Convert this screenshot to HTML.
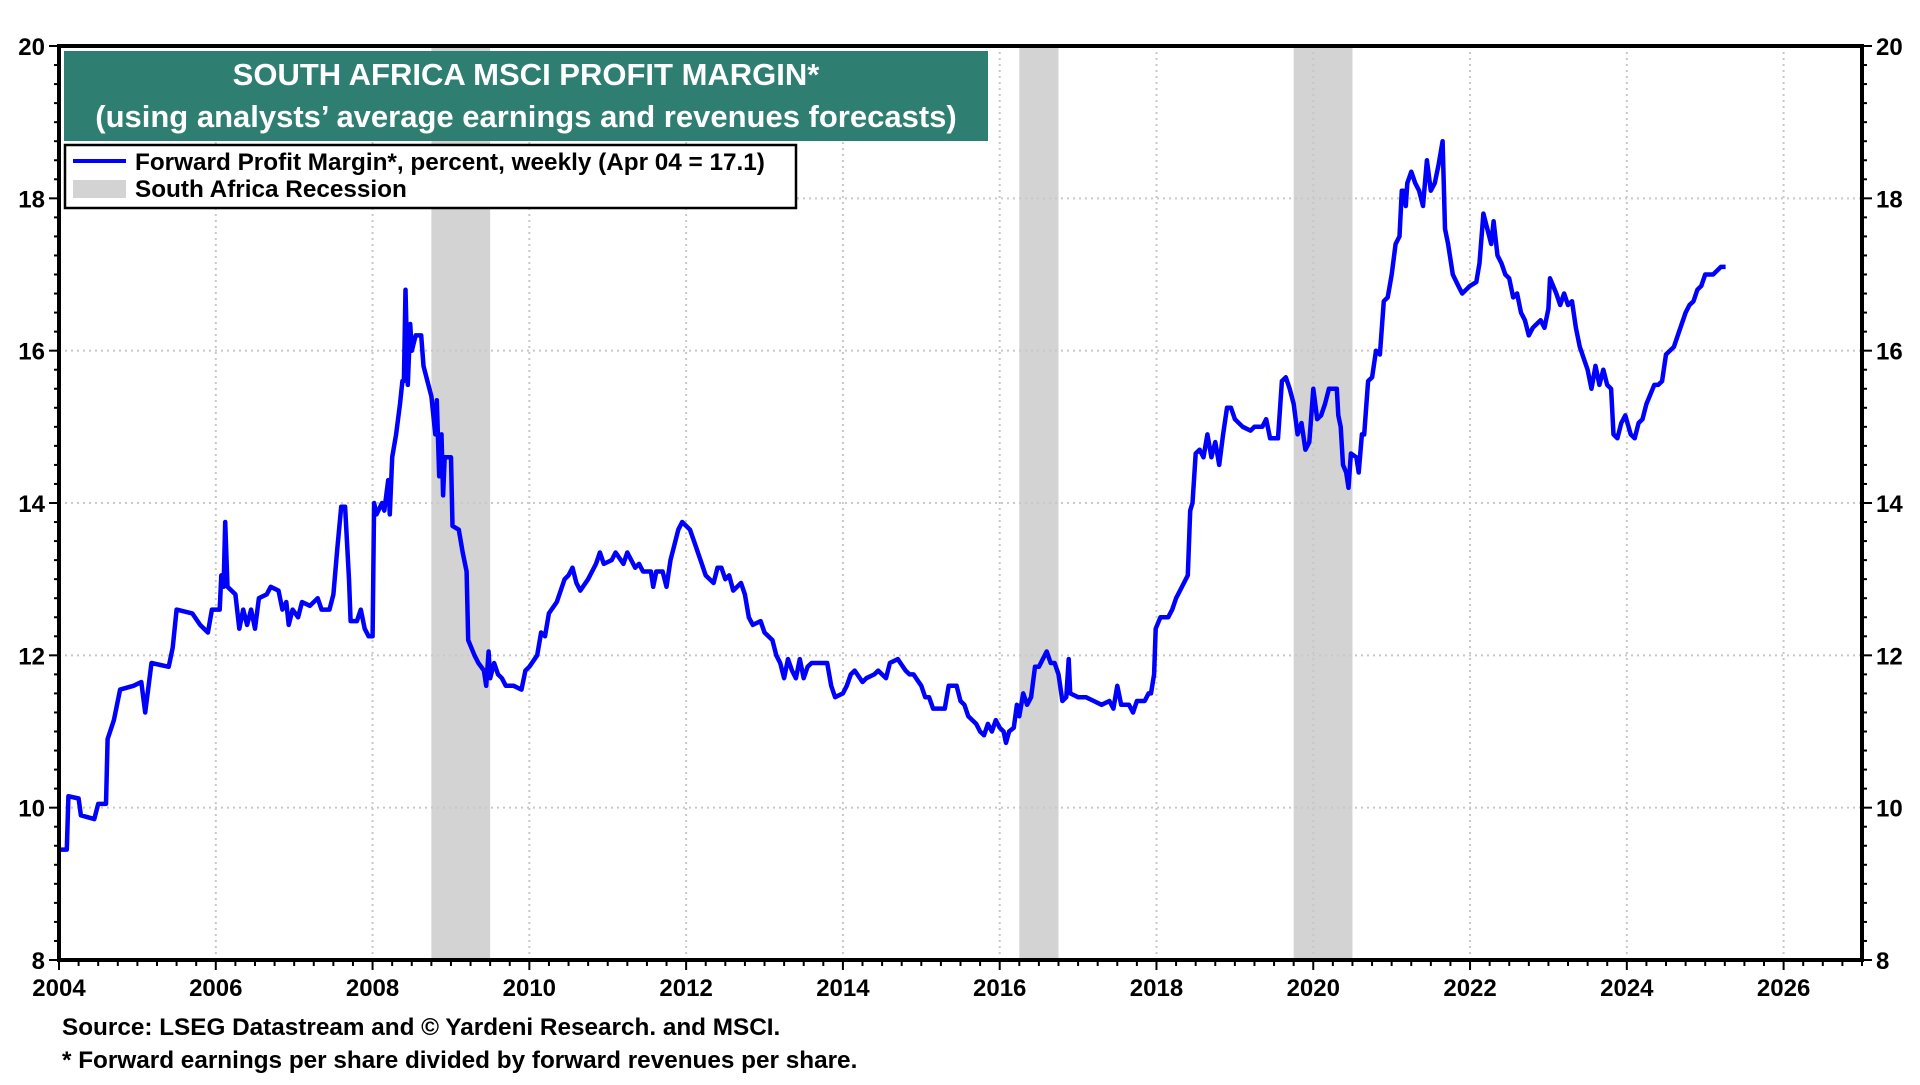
<!DOCTYPE html>
<html><head><meta charset="utf-8"><style>
html,body{margin:0;padding:0;background:#fff;}
svg text{font-family:"Liberation Sans",Arial,sans-serif;font-weight:bold;}
</style></head><body>
<svg id="chart" width="1920" height="1080" viewBox="0 0 1920 1080" xmlns="http://www.w3.org/2000/svg">
<g id="recessions"></g>
<g id="grid"></g>
<g id="series"></g>
<g id="axes"></g>
<g id="title-group">
<rect x="64" y="51" width="924" height="90" fill="#2e7e72"/>
<text x="526" y="85" text-anchor="middle" fill="#fff" font-size="31">SOUTH AFRICA MSCI PROFIT MARGIN*</text>
<text x="526" y="127" text-anchor="middle" fill="#fff" font-size="31">(using analysts’ average earnings and revenues forecasts)</text>
</g>
<g>
<rect x="65" y="145" width="731" height="63" fill="#fff" stroke="#000" stroke-width="2.5"/>
<line x1="73" y1="161" x2="126" y2="161" stroke="#0000ff" stroke-width="4"/>
<text x="135" y="170" font-size="24.3">Forward Profit Margin*, percent, weekly (Apr 04 = 17.1)</text>
<rect x="73" y="180" width="53" height="18" fill="#d3d3d3"/>
<text x="135" y="197" font-size="24.3">South Africa Recession</text>
</g>
<text x="62" y="1035" font-size="24.3">Source: LSEG Datastream and © Yardeni Research. and MSCI.</text>
<text x="62" y="1068" font-size="24.3">* Forward earnings per share divided by forward revenues per share.</text>
</svg>
<script>
const years=[2004.0,2004.1,2004.12,2004.25,2004.28,2004.45,2004.5,2004.6,2004.62,2004.7,2004.78,2004.95,2005.05,2005.1,2005.18,2005.4,2005.45,2005.5,2005.7,2005.8,2005.9,2005.95,2006.05,2006.07,2006.1,2006.12,2006.15,2006.25,2006.3,2006.35,2006.4,2006.45,2006.5,2006.55,2006.65,2006.7,2006.8,2006.85,2006.9,2006.93,2006.98,2007.05,2007.1,2007.2,2007.3,2007.35,2007.45,2007.5,2007.55,2007.6,2007.65,2007.7,2007.72,2007.8,2007.85,2007.9,2007.95,2008.0,2008.02,2008.05,2008.12,2008.15,2008.2,2008.22,2008.25,2008.3,2008.35,2008.38,2008.4,2008.42,2008.45,2008.48,2008.5,2008.55,2008.62,2008.65,2008.7,2008.75,2008.8,2008.82,2008.85,2008.88,2008.9,2008.92,2009.0,2009.02,2009.1,2009.15,2009.2,2009.22,2009.3,2009.35,2009.42,2009.45,2009.48,2009.5,2009.55,2009.6,2009.65,2009.7,2009.8,2009.9,2009.95,2010.0,2010.1,2010.15,2010.2,2010.25,2010.35,2010.45,2010.5,2010.55,2010.6,2010.65,2010.75,2010.85,2010.9,2010.95,2011.05,2011.1,2011.2,2011.25,2011.35,2011.4,2011.45,2011.55,2011.58,2011.62,2011.7,2011.75,2011.8,2011.85,2011.9,2011.95,2012.0,2012.05,2012.1,2012.15,2012.2,2012.25,2012.3,2012.35,2012.4,2012.45,2012.5,2012.55,2012.6,2012.65,2012.7,2012.75,2012.8,2012.85,2012.95,2013.0,2013.1,2013.15,2013.2,2013.25,2013.3,2013.35,2013.4,2013.45,2013.5,2013.55,2013.6,2013.7,2013.8,2013.85,2013.9,2014.0,2014.05,2014.1,2014.15,2014.25,2014.3,2014.4,2014.45,2014.55,2014.6,2014.7,2014.8,2014.85,2014.9,2015.0,2015.05,2015.1,2015.15,2015.2,2015.3,2015.35,2015.45,2015.5,2015.55,2015.6,2015.7,2015.75,2015.8,2015.85,2015.9,2015.95,2016.0,2016.05,2016.08,2016.12,2016.18,2016.22,2016.25,2016.3,2016.35,2016.4,2016.45,2016.5,2016.55,2016.6,2016.65,2016.7,2016.75,2016.8,2016.85,2016.88,2016.9,2017.0,2017.1,2017.2,2017.3,2017.4,2017.45,2017.5,2017.55,2017.65,2017.7,2017.75,2017.85,2017.9,2017.93,2017.97,2017.99,2018.05,2018.15,2018.2,2018.25,2018.3,2018.35,2018.4,2018.43,2018.46,2018.5,2018.55,2018.6,2018.65,2018.7,2018.75,2018.8,2018.85,2018.9,2018.95,2019.0,2019.1,2019.2,2019.25,2019.35,2019.4,2019.45,2019.55,2019.6,2019.65,2019.7,2019.75,2019.8,2019.85,2019.9,2019.95,2020.0,2020.05,2020.1,2020.15,2020.2,2020.3,2020.32,2020.35,2020.38,2020.42,2020.45,2020.48,2020.55,2020.58,2020.62,2020.65,2020.7,2020.75,2020.8,2020.85,2020.9,2020.95,2021.0,2021.05,2021.1,2021.13,2021.15,2021.18,2021.2,2021.25,2021.3,2021.35,2021.4,2021.45,2021.5,2021.55,2021.6,2021.65,2021.68,2021.72,2021.78,2021.85,2021.9,2021.95,2022.0,2022.08,2022.12,2022.17,2022.22,2022.27,2022.3,2022.35,2022.4,2022.45,2022.5,2022.55,2022.6,2022.65,2022.7,2022.75,2022.8,2022.85,2022.9,2022.95,2023.0,2023.02,2023.1,2023.15,2023.2,2023.25,2023.3,2023.35,2023.4,2023.45,2023.5,2023.55,2023.6,2023.65,2023.7,2023.75,2023.8,2023.83,2023.88,2023.93,2023.98,2024.05,2024.1,2024.15,2024.2,2024.25,2024.35,2024.4,2024.45,2024.5,2024.55,2024.6,2024.65,2024.7,2024.75,2024.8,2024.85,2024.9,2024.95,2025.0,2025.1,2025.15,2025.2,2025.26];
const margins=[9.45,9.45,10.15,10.12,9.9,9.85,10.05,10.05,10.9,11.15,11.55,11.6,11.65,11.25,11.9,11.85,12.1,12.6,12.55,12.4,12.3,12.6,12.6,13.05,12.9,13.75,12.9,12.8,12.35,12.6,12.4,12.6,12.35,12.75,12.8,12.9,12.85,12.6,12.7,12.4,12.6,12.5,12.7,12.65,12.75,12.6,12.6,12.8,13.4,13.95,13.95,13.0,12.45,12.45,12.6,12.35,12.25,12.25,14.0,13.85,14.0,13.9,14.3,13.85,14.6,14.9,15.3,15.6,15.6,16.8,15.55,16.35,16.0,16.2,16.2,15.8,15.6,15.4,14.9,15.35,14.35,14.9,14.1,14.6,14.6,13.7,13.65,13.35,13.1,12.2,12.0,11.9,11.8,11.6,12.05,11.7,11.9,11.75,11.7,11.6,11.6,11.55,11.8,11.85,12.0,12.3,12.25,12.55,12.7,13.0,13.05,13.15,12.95,12.85,13.0,13.2,13.35,13.2,13.25,13.35,13.2,13.35,13.15,13.2,13.1,13.1,12.9,13.1,13.1,12.9,13.25,13.45,13.65,13.75,13.7,13.65,13.5,13.35,13.2,13.05,13.0,12.95,13.15,13.15,13.0,13.05,12.85,12.9,12.95,12.8,12.5,12.4,12.45,12.3,12.2,12.0,11.9,11.7,11.95,11.8,11.7,11.95,11.7,11.85,11.9,11.9,11.9,11.6,11.45,11.5,11.6,11.75,11.8,11.65,11.7,11.75,11.8,11.7,11.9,11.95,11.8,11.75,11.75,11.6,11.45,11.45,11.3,11.3,11.3,11.6,11.6,11.4,11.35,11.2,11.1,11.0,10.95,11.1,11.0,11.15,11.05,11.0,10.85,11.0,11.05,11.35,11.2,11.5,11.35,11.45,11.85,11.85,11.95,12.05,11.9,11.9,11.75,11.4,11.45,11.95,11.5,11.45,11.45,11.4,11.35,11.4,11.3,11.6,11.35,11.35,11.25,11.4,11.4,11.5,11.5,11.75,12.35,12.5,12.5,12.6,12.75,12.85,12.95,13.05,13.9,14.0,14.65,14.7,14.6,14.9,14.6,14.8,14.5,14.9,15.25,15.25,15.1,15.0,14.95,15.0,15.0,15.1,14.85,14.85,15.6,15.65,15.5,15.3,14.9,15.05,14.7,14.8,15.5,15.1,15.15,15.3,15.5,15.5,15.15,15.0,14.5,14.4,14.2,14.65,14.6,14.4,14.9,14.9,15.6,15.65,16.0,15.95,16.65,16.7,17.0,17.4,17.5,18.1,18.1,17.9,18.2,18.35,18.2,18.1,17.9,18.5,18.1,18.2,18.45,18.75,17.6,17.4,17.0,16.85,16.75,16.8,16.85,16.9,17.15,17.8,17.6,17.4,17.7,17.25,17.15,17.0,16.95,16.7,16.75,16.5,16.4,16.2,16.3,16.35,16.4,16.3,16.55,16.95,16.75,16.6,16.75,16.6,16.65,16.3,16.05,15.9,15.75,15.5,15.8,15.55,15.75,15.55,15.5,14.9,14.85,15.05,15.15,14.9,14.85,15.05,15.1,15.3,15.55,15.55,15.6,15.95,16.0,16.05,16.2,16.35,16.5,16.6,16.65,16.8,16.85,17.0,17.0,17.05,17.1,17.1];
const recessionStarts=[2008.75,2016.25,2019.75];
const recessionEnds=[2009.5,2016.75,2020.5];
const xTickYears=[2004,2006,2008,2010,2012,2014,2016,2018,2020,2022,2024,2026];
const yTickValues=[8,10,12,14,16,18,20];

const NS="http://www.w3.org/2000/svg";
const L=59,R=1862,T=46,B=960;
const X0=2004,X1=2027,Y0=8,Y1=20;
function xs(v){return L+(v-X0)/(X1-X0)*(R-L);}
function ys(v){return B-(v-Y0)/(Y1-Y0)*(B-T);}
function mk(tag,attrs,parent){const e=document.createElementNS(NS,tag);for(const k in attrs)e.setAttribute(k,attrs[k]);parent.appendChild(e);return e;}

const gRec=document.getElementById('recessions');
for(let i=0;i<recessionStarts.length;i++){
  const r=mk('rect',{x:xs(recessionStarts[i]),y:T,width:xs(recessionEnds[i])-xs(recessionStarts[i]),height:B-T,fill:'#d3d3d3'},gRec);
  
  
}
const gGrid=document.getElementById('grid');
for(const yr of xTickYears){
  if(yr===X0)continue;
  const l=mk('line',{x1:xs(yr),x2:xs(yr),y1:T,y2:B,stroke:'#c8c8c8','stroke-width':2,'stroke-dasharray':'2,4'},gGrid);
  
  
}
for(const v of yTickValues){
  if(v===Y0||v===Y1)continue;
  const l=mk('line',{x1:L,x2:R,y1:ys(v),y2:ys(v),stroke:'#c8c8c8','stroke-width':2,'stroke-dasharray':'2,4'},gGrid);
  
  
}
const gS=document.getElementById('series');
let d='';
for(let i=0;i<years.length;i++){d+=(i?'L':'M')+xs(years[i]).toFixed(1)+','+ys(margins[i]).toFixed(1);}
const path=mk('path',{d:d,fill:'none',stroke:'#0000ff','stroke-width':4.5,'stroke-linejoin':'round'},gS);



const gA=document.getElementById('axes');
const frame=mk('rect',{x:L,y:T,width:R-L,height:B-T,fill:'none',stroke:'#000','stroke-width':4},gA);


for(let v=Y0;v<=Y1+0.001;v+=0.25){
  const major=Math.abs(v-Math.round(v/2)*2)<0.001;
  const len=major?10:5;
  mk('line',{x1:L-len,x2:L,y1:ys(v),y2:ys(v),stroke:'#000','stroke-width':2},gA);
  mk('line',{x1:R,x2:R+len,y1:ys(v),y2:ys(v),stroke:'#000','stroke-width':2},gA);
}
for(const v of yTickValues){
  const t1=mk('text',{x:L-14,y:ys(v)+9,'text-anchor':'end','font-size':24},gA);
  t1.textContent=v;
  
  
  const t2=mk('text',{x:R+14,y:ys(v)+9,'text-anchor':'start','font-size':24},gA);
  t2.textContent=v;
  
  
}
for(let y=X0;y<=X1+0.001;y+=0.25){
  const major=Math.abs(y-Math.round(y/2)*2)<0.001;
  mk('line',{x1:xs(y),x2:xs(y),y1:B,y2:B+(major?10:6),stroke:'#000','stroke-width':2},gA);
}
for(const yr of xTickYears){
  const t=mk('text',{x:xs(yr),y:B+36,'text-anchor':'middle','font-size':24},gA);
  t.textContent=yr;
  
  
}
</script>
</body></html>
